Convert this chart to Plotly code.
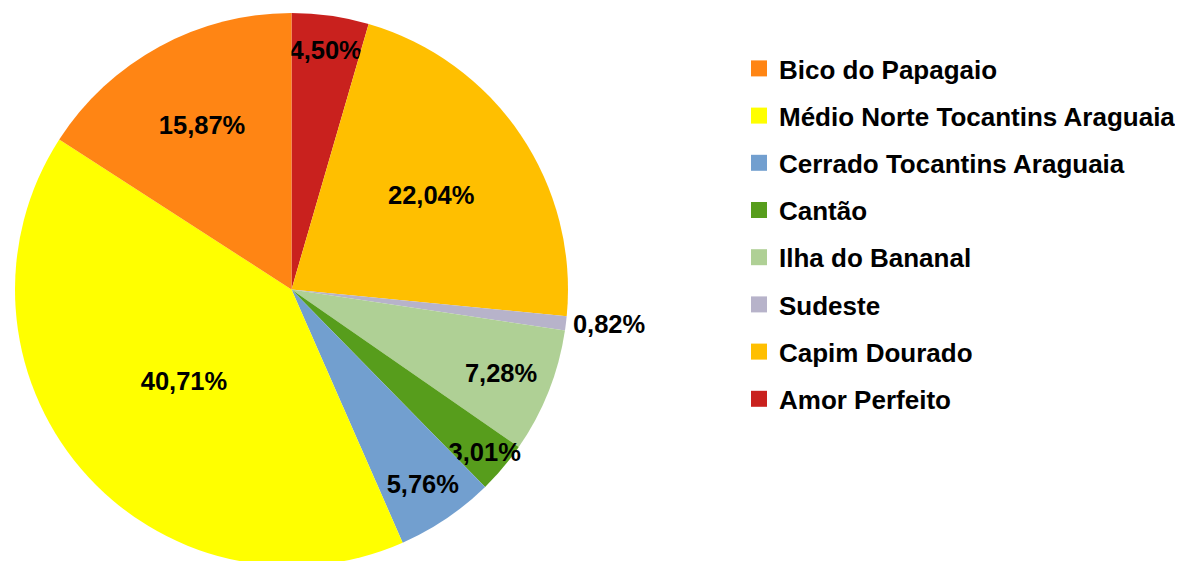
import plotly.graph_objects as go

labels = ["Bico do Papagaio", "Médio Norte Tocantins Araguaia", "Cerrado Tocantins Araguaia",
          "Cantão", "Ilha do Bananal", "Sudeste", "Capim Dourado", "Amor Perfeito"]
values = [15.87, 40.71, 5.76, 3.01, 7.28, 0.82, 22.04, 4.50]
colors = ["#FF8514", "#FFFF00", "#729FCF", "#579D1C", "#AFD095", "#B7B3CA", "#FFBF00", "#C9211E"]
positions = ["inside", "inside", "inside", "inside", "inside", "outside", "inside", "inside"]

W, H = 1183, 561
mt, mb = 5, 3
ph = H - mt - mb

fig = go.Figure()
# pie drawn clockwise from 12 o'clock, starting with the last legend entry
fig.add_trace(go.Pie(
    labels=labels[::-1], values=values[::-1], sort=False, direction="clockwise", rotation=0,
    marker=dict(colors=colors[::-1], line=dict(width=0)),
    texttemplate="%{value:.2f}%", textposition=positions[::-1],
    insidetextorientation="horizontal",
    textfont=dict(family="Liberation Sans", size=25.5, color="black", weight="bold"),
    domain=dict(x=[7 / W, 560 / W], y=[0, 1]),
    showlegend=False, hoverinfo="label+percent",
))

for lab, col in zip(labels, colors):
    fig.add_trace(go.Scatter(
        x=[None], y=[None], mode="markers", name=lab, legendgroup=lab,
        marker=dict(symbol="square", size=16, color=col),
    ))

fig.update_layout(
    width=W, height=H,
    margin=dict(l=0, r=0, t=mt, b=mb, autoexpand=False),
    paper_bgcolor="white", plot_bgcolor="white",
    separators=",.",
    uniformtext=dict(minsize=25.5, mode="show"),
    xaxis=dict(visible=False), yaxis=dict(visible=False),
    legend=dict(
        x=731 / W, xanchor="left", y=1 - (37 - mt) / ph, yanchor="top",
        traceorder="grouped", tracegroupgap=10.4, itemsizing="trace",
        font=dict(family="Liberation Sans", size=26, color="black", weight="bold"),
        bgcolor="rgba(0,0,0,0)",
    ),
)

fig.write_html("out.html")
